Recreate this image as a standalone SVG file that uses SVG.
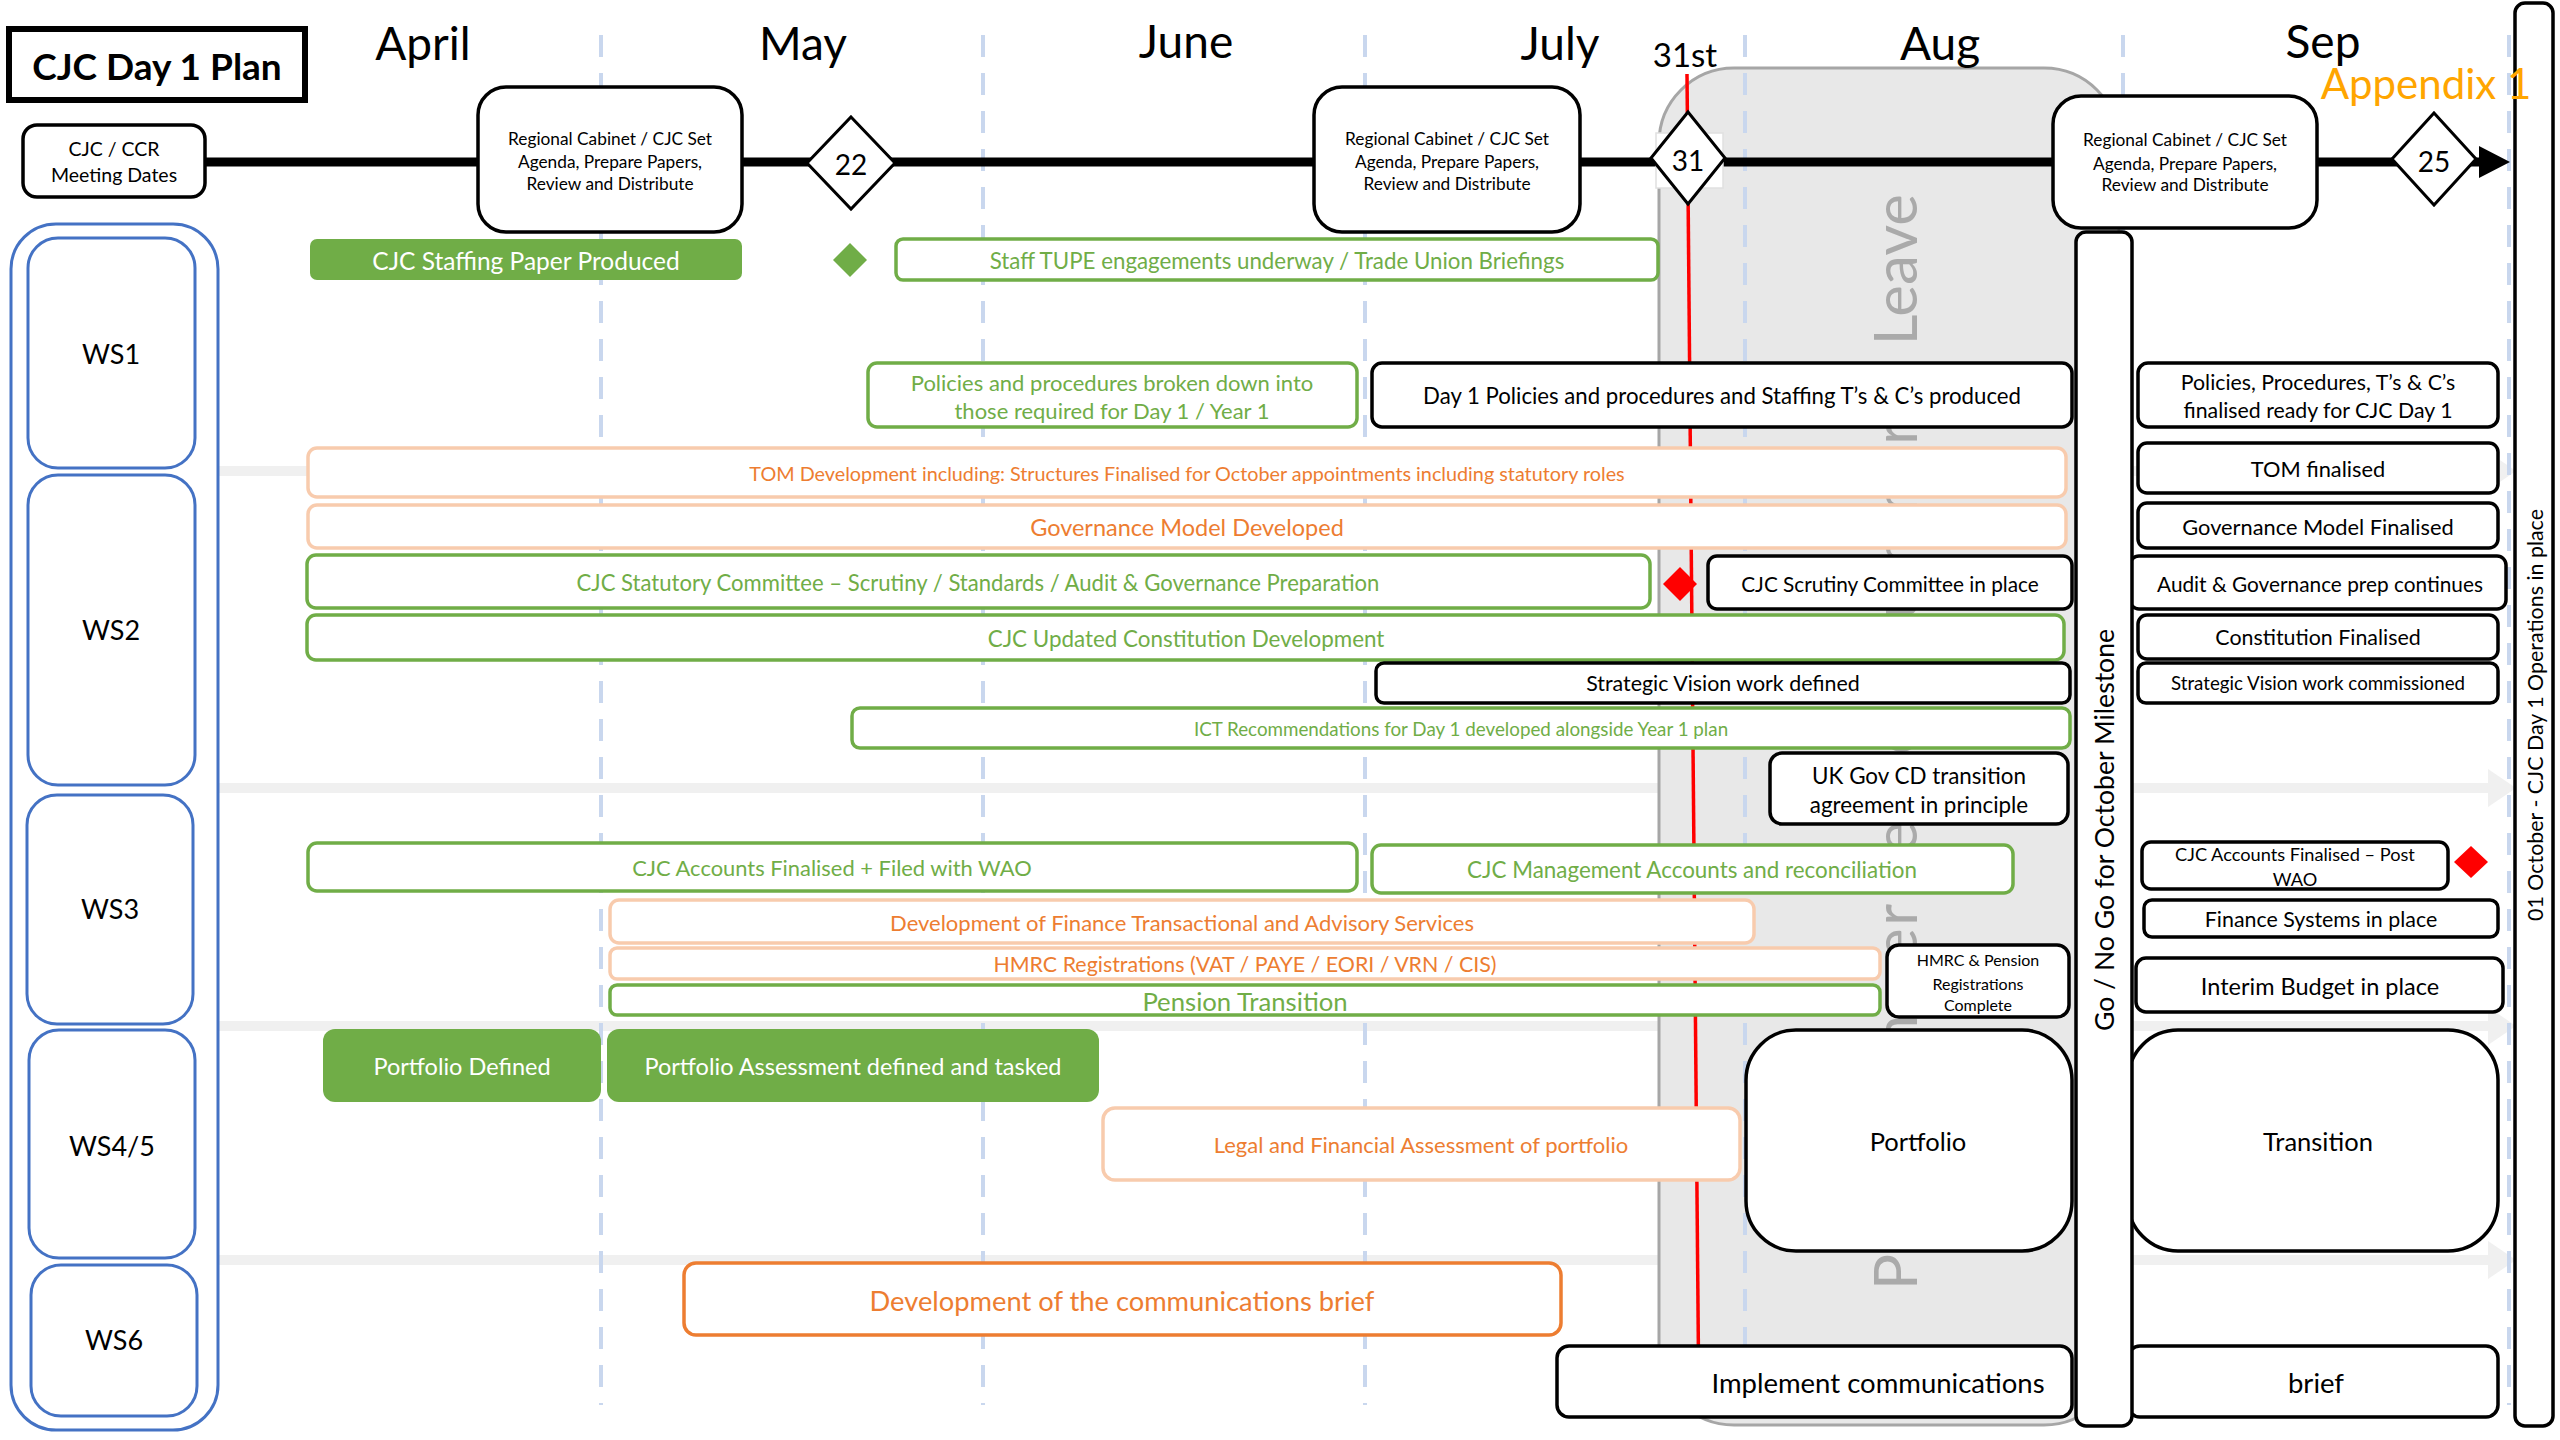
<svg xmlns="http://www.w3.org/2000/svg" width="2560" height="1440" viewBox="0 0 2560 1440">
<defs>
<style>
text{font-family:Lato,'Liberation Sans',sans-serif;text-anchor:middle;dominant-baseline:central;}
.box{fill:#fff;stroke:#000;stroke-width:3.5;}
.gbar{fill:#fff;stroke:#70AD47;stroke-width:3.5;}
.obar{fill:#fff;stroke:#F8CBAD;stroke-width:3.5;}
.obar2{fill:#fff;stroke:#ED7D31;stroke-width:3.5;}
.gfill{fill:#70AD47;}
.ws{fill:#fff;stroke:#4472C4;stroke-width:3;}
.gt{fill:#70AD47;}
.ot{fill:#ED7D31;}
.wt{fill:#fff;}
.kt{fill:#000;}
.month{font-size:46px;fill:#000;}
.sep{stroke:#F0F0F0;stroke-width:10;fill:none;}
.grid{stroke:#C9D7EE;stroke-width:4;stroke-dasharray:22 16;fill:none;}
.leave{font-size:60px;fill:#AAAAAA;dominant-baseline:alphabetic;}
</style>
</defs>
<rect x="0" y="0" width="2560" height="1440" fill="#fff"/>

<g id="connectors">
<line class="sep" x1="217" y1="471" x2="2490" y2="471"/>
<polygon points="2488,452 2516,471 2488,490" fill="#F0F0F0"/>
<line class="sep" x1="217" y1="788" x2="2490" y2="788"/>
<polygon points="2488,769 2516,788 2488,807" fill="#F0F0F0"/>
<line class="sep" x1="217" y1="1026" x2="2490" y2="1026"/>
<polygon points="2488,1007 2516,1026 2488,1045" fill="#F0F0F0"/>
<line class="sep" x1="217" y1="1260" x2="2490" y2="1260"/>
<polygon points="2488,1241 2516,1260 2488,1279" fill="#F0F0F0"/>
</g>

<g id="leave-period">
<rect x="1659" y="68" width="460" height="1357" rx="75" fill="#E8E8E8" stroke="#A6A6A6" stroke-width="3"/>
<text class="leave" transform="translate(1917,1290) rotate(-90)" x="0" y="0" style="text-anchor:start" textLength="867" lengthAdjust="spacing">Peak Summer Leave / Summer</text>
<text class="leave" transform="translate(1917,194) rotate(-90)" x="0" y="0" style="text-anchor:end">Leave</text>
</g>

<g id="gridlines">
<line class="grid" x1="601" y1="35" x2="601" y2="1405"/>
<line class="grid" x1="983" y1="35" x2="983" y2="1405"/>
<line class="grid" x1="1365" y1="35" x2="1365" y2="1405"/>
<line class="grid" x1="1745" y1="35" x2="1745" y2="1405"/>
<line class="grid" x1="2123" y1="35" x2="2123" y2="1405"/>
<line class="grid" x1="2509" y1="35" x2="2509" y2="1405"/>
</g>

<g id="deadline-31st">
<line x1="1687" y1="74" x2="1699" y2="1418" stroke="#FF0000" stroke-width="3.5"/>
<text x="1685" y="54" font-size="33" class="kt">31st</text>
</g>

<g id="months">
<text class="month" x="423" y="42">April</text>
<text class="month" x="803" y="42">May</text>
<text class="month" x="1186" y="40">June</text>
<text class="month" x="1560" y="42">July</text>
<text class="month" x="1940" y="42">Aug</text>
<text class="month" x="2323" y="40">Sep</text>
</g>

<g id="title">
<rect x="9" y="29" width="296" height="71" fill="#fff" stroke="#000" stroke-width="6"/>
<text x="157" y="65" font-size="37" font-weight="bold" class="kt">CJC Day 1 Plan</text>
</g>

<g id="timeline">
<line x1="205" y1="162" x2="2482" y2="162" stroke="#000" stroke-width="9"/>
<polygon points="2479,146 2510,162 2479,178" fill="#000"/>
</g>

<g id="meeting-dates">
<rect class="box" x="23" y="125" width="182" height="72" rx="14"/>
<text x="114" y="148" font-size="19.5" class="kt">CJC / CCR</text>
<text x="114" y="174" font-size="19.5" class="kt">Meeting Dates</text>
</g>

<g id="cabinet-1">
<rect class="box" x="478" y="87" width="264" height="145" rx="28"/>
<text x="610" y="138" font-size="17.3" class="kt">Regional Cabinet  / CJC Set</text>
<text x="610" y="161" font-size="17.3" class="kt">Agenda, Prepare Papers,</text>
<text x="610" y="183" font-size="17.3" class="kt">Review and Distribute</text>
</g>
<g id="cabinet-2">
<rect class="box" x="1314" y="87" width="266" height="145" rx="28"/>
<text x="1447" y="138" font-size="17.3" class="kt">Regional Cabinet  / CJC Set</text>
<text x="1447" y="161" font-size="17.3" class="kt">Agenda, Prepare Papers,</text>
<text x="1447" y="183" font-size="17.3" class="kt">Review and Distribute</text>
</g>
<g id="cabinet-3">
<rect class="box" x="2053" y="96" width="264" height="132" rx="28"/>
<text x="2185" y="139" font-size="17.3" class="kt">Regional Cabinet  / CJC Set</text>
<text x="2185" y="163" font-size="17.3" class="kt">Agenda, Prepare Papers,</text>
<text x="2185" y="184" font-size="17.3" class="kt">Review and Distribute</text>
</g>

<g id="date-22">
<polygon points="851,117 895,163 851,209 807,163" fill="#fff" stroke="#000" stroke-width="3"/>
<text x="851" y="164" font-size="28" class="kt">22</text>
</g>
<g id="date-31">
<rect x="1656" y="133" width="67" height="55" fill="#fff" stroke="#E0E0E0" stroke-width="1.5"/>
<polygon points="1688,112 1725,158 1688,204 1651,158" fill="#fff" stroke="#000" stroke-width="3"/>
<text x="1688" y="160" font-size="28" class="kt">31</text>
</g>
<g id="date-25">
<polygon points="2434,113 2476,159 2434,205 2392,159" fill="#fff" stroke="#000" stroke-width="3"/>
<text x="2434" y="161" font-size="28" class="kt">25</text>
</g>

<g id="workstreams">
<rect class="ws" x="11" y="224" width="207" height="1206" rx="45"/>
<g id="ws1"><rect class="ws" x="28" y="238" width="167" height="230" rx="30"/><text x="111" y="353" font-size="27" class="kt">WS1</text></g>
<g id="ws2"><rect class="ws" x="28" y="475" width="167" height="310" rx="30"/><text x="111" y="629" font-size="27" class="kt">WS2</text></g>
<g id="ws3"><rect class="ws" x="27" y="795" width="166" height="229" rx="30"/><text x="110" y="908" font-size="27" class="kt">WS3</text></g>
<g id="ws45"><rect class="ws" x="29" y="1030" width="166" height="228" rx="30"/><text x="112" y="1145" font-size="27" class="kt">WS4/5</text></g>
<g id="ws6"><rect class="ws" x="31" y="1265" width="166" height="151" rx="30"/><text x="114" y="1339" font-size="27" class="kt">WS6</text></g>
</g>

<!-- WS1 -->
<g id="staffing-paper"><rect class="gfill" x="310" y="239" width="432" height="41" rx="7"/><text class="wt" x="526" y="260" font-size="24.5">CJC Staffing Paper Produced</text></g>
<g id="green-milestone"><polygon points="850,243 867,260 850,277 833,260" fill="#70AD47"/></g>
<g id="tupe"><rect class="gbar" x="896" y="239" width="762" height="41" rx="7"/><text class="gt" x="1277" y="260" font-size="22.3">Staff TUPE engagements underway / Trade Union Briefings</text></g>
<g id="policies-breakdown"><rect class="gbar" x="868" y="363" width="489" height="64" rx="9"/><text class="gt" x="1112" y="382" font-size="22">Policies and procedures broken down into</text><text class="gt" x="1112" y="410" font-size="22">those required for Day 1 / Year 1</text></g>
<g id="day1-policies"><rect class="box" x="1372" y="363" width="700" height="64" rx="10"/><text class="kt" x="1722" y="395" font-size="22.2">Day 1 Policies and procedures and Staffing T’s &amp; C’s produced</text></g>
<g id="policies-finalised"><rect class="box" x="2138" y="363" width="360" height="64" rx="10"/><text class="kt" x="2318" y="382" font-size="21.3">Policies, Procedures, T’s &amp; C’s</text><text class="kt" x="2318" y="410" font-size="21.3">finalised ready for CJC Day 1</text></g>

<!-- WS2 -->
<g id="tom-dev"><rect class="obar" x="308" y="448" width="1758" height="49" rx="9"/><text class="ot" x="1187" y="473" font-size="19.8">TOM Development  including: Structures Finalised for October appointments  including statutory roles</text></g>
<g id="tom-final"><rect class="box" x="2138" y="443" width="360" height="50" rx="9"/><text class="kt" x="2318" y="468" font-size="21.8">TOM finalised</text></g>
<g id="gov-dev"><rect class="obar" x="308" y="505" width="1758" height="43" rx="9"/><text class="ot" x="1187" y="527" font-size="23.5">Governance Model Developed</text></g>
<g id="gov-final"><rect class="box" x="2138" y="503" width="360" height="45" rx="9"/><text class="kt" x="2318" y="526" font-size="21.8">Governance Model Finalised</text></g>
<g id="statutory"><rect class="gbar" x="307" y="555" width="1343" height="53" rx="9"/><text class="gt" x="978" y="582" font-size="22.1">CJC Statutory Committee – Scrutiny / Standards / Audit &amp; Governance Preparation</text></g>
<g id="red-milestone-1"><polygon points="1680,567 1697,584 1680,601 1663,584" fill="#FF0000"/></g>
<g id="scrutiny"><rect class="box" x="1708" y="556" width="364" height="53" rx="9"/><text class="kt" x="1890" y="583" font-size="20.8">CJC Scrutiny Committee in place</text></g>
<g id="audit-prep"><rect class="box" x="2130" y="556" width="376" height="53" rx="9"/><text class="kt" x="2320" y="583" font-size="20.8">Audit &amp; Governance prep continues</text></g>
<g id="constitution-dev"><rect class="gbar" x="307" y="615" width="1757" height="45" rx="9"/><text class="gt" x="1186" y="638" font-size="22.4">CJC Updated Constitution Development</text></g>
<g id="constitution-final"><rect class="box" x="2138" y="615" width="360" height="44" rx="9"/><text class="kt" x="2318" y="637" font-size="21.4">Constitution Finalised</text></g>
<g id="vision-defined"><rect class="box" x="1376" y="663" width="694" height="40" rx="8"/><text class="kt" x="1723" y="683" font-size="21.4">Strategic Vision work defined</text></g>
<g id="vision-commissioned"><rect class="box" x="2138" y="663" width="360" height="40" rx="8"/><text class="kt" x="2318" y="683" font-size="18.7">Strategic Vision work commissioned</text></g>
<g id="ict"><rect class="gbar" x="852" y="708" width="1218" height="40" rx="8"/><text class="gt" x="1461" y="728" font-size="18.8">ICT Recommendations  for Day 1 developed alongside Year 1 plan</text></g>
<g id="ukgov"><rect class="box" x="1770" y="753" width="298" height="71" rx="12"/><text class="kt" x="1919" y="775" font-size="22.4">UK Gov CD transition</text><text class="kt" x="1919" y="804" font-size="22.4">agreement in principle</text></g>

<!-- WS3 -->
<g id="accounts-filed"><rect class="gbar" x="308" y="843" width="1049" height="48" rx="9"/><text class="gt" x="832" y="867" font-size="21.9">CJC Accounts Finalised + Filed with WAO</text></g>
<g id="mgmt-accounts"><rect class="gbar" x="1372" y="845" width="641" height="48" rx="9"/><text class="gt" x="1692" y="869" font-size="22.4">CJC Management Accounts and reconciliation</text></g>
<g id="accounts-post-wao"><rect class="box" x="2142" y="842" width="306" height="47" rx="9"/><text class="kt" x="2295" y="854" font-size="18.2">CJC Accounts Finalised – Post</text><text class="kt" x="2295" y="879" font-size="18.2">WAO</text></g>
<g id="red-milestone-2"><polygon points="2471,846 2488,862 2471,878 2454,862" fill="#FF0000"/></g>
<g id="finance-services"><rect class="obar" x="610" y="900" width="1144" height="43" rx="9"/><text class="ot" x="1182" y="922" font-size="22">Development of Finance Transactional and Advisory Services</text></g>
<g id="finance-systems"><rect class="box" x="2144" y="900" width="354" height="37" rx="8"/><text class="kt" x="2321" y="919" font-size="21.4">Finance Systems in place</text></g>
<g id="hmrc"><rect class="obar" x="610" y="948" width="1270" height="31" rx="7"/><text class="ot" x="1245" y="964" font-size="21.4">HMRC Registrations (VAT / PAYE / EORI / VRN / CIS)</text></g>
<g id="pension"><rect class="gbar" x="610" y="985" width="1270" height="30" rx="7"/><text class="gt" x="1245" y="1001" font-size="25.7">Pension Transition</text></g>
<g id="hmrc-complete"><rect class="box" x="1887" y="945" width="182" height="72" rx="12"/><text class="kt" x="1978" y="959" font-size="16">HMRC &amp; Pension</text><text class="kt" x="1978" y="983" font-size="16">Registrations</text><text class="kt" x="1978" y="1004" font-size="16">Complete</text></g>
<g id="interim-budget"><rect class="box" x="2136" y="958" width="367" height="54" rx="10"/><text class="kt" x="2320" y="986" font-size="23.5">Interim Budget in place</text></g>

<!-- WS4/5 -->
<g id="portfolio-defined"><rect class="gfill" x="323" y="1029" width="278" height="73" rx="12"/><text class="wt" x="462" y="1066" font-size="23.5">Portfolio Defined</text></g>
<g id="portfolio-assessment"><rect class="gfill" x="607" y="1029" width="492" height="73" rx="12"/><text class="wt" x="853" y="1066" font-size="23.5">Portfolio Assessment defined and tasked</text></g>
<g id="legal-financial"><rect class="obar" x="1103" y="1108" width="637" height="72" rx="12"/><text class="ot" x="1421" y="1144" font-size="22">Legal and Financial Assessment of portfolio</text></g>
<g id="portfolio"><rect class="box" x="1746" y="1030" width="326" height="221" rx="50"/><text class="kt" x="1918" y="1141" font-size="25.5">Portfolio</text></g>
<g id="transition"><rect class="box" x="2128" y="1030" width="370" height="221" rx="50"/><text class="kt" x="2318" y="1141" font-size="25.5">Transition</text></g>

<!-- WS6 -->
<g id="comms-brief"><rect class="obar2" x="684" y="1263" width="877" height="72" rx="12"/><text class="ot" x="1122" y="1300" font-size="27.3">Development of the communications brief</text></g>
<g id="implement-comms"><rect class="box" x="1557" y="1346" width="515" height="71" rx="12"/><text class="kt" x="1878" y="1382" font-size="27.5">Implement communications</text></g>
<g id="brief"><rect class="box" x="2128" y="1346" width="370" height="71" rx="12"/><text class="kt" x="2316" y="1382" font-size="27.5">brief</text></g>

<!-- milestone bars -->
<g id="go-no-go"><rect class="box" x="2076" y="232" width="56" height="1194" rx="10"/><text class="kt" transform="translate(2104,830) rotate(-90)" x="0" y="0" font-size="26.6">Go / No Go for October Milestone</text></g>
<g id="day1-operations"><rect class="box" x="2515" y="3" width="38" height="1423" rx="10"/><text class="kt" transform="translate(2535,715) rotate(-90)" x="0" y="0" font-size="21.4">01 October - CJC Day 1 Operations in place</text></g>

<g id="appendix"><text x="2426" y="83" font-size="42" fill="#FFA500">Appendix 1</text></g>
</svg>
